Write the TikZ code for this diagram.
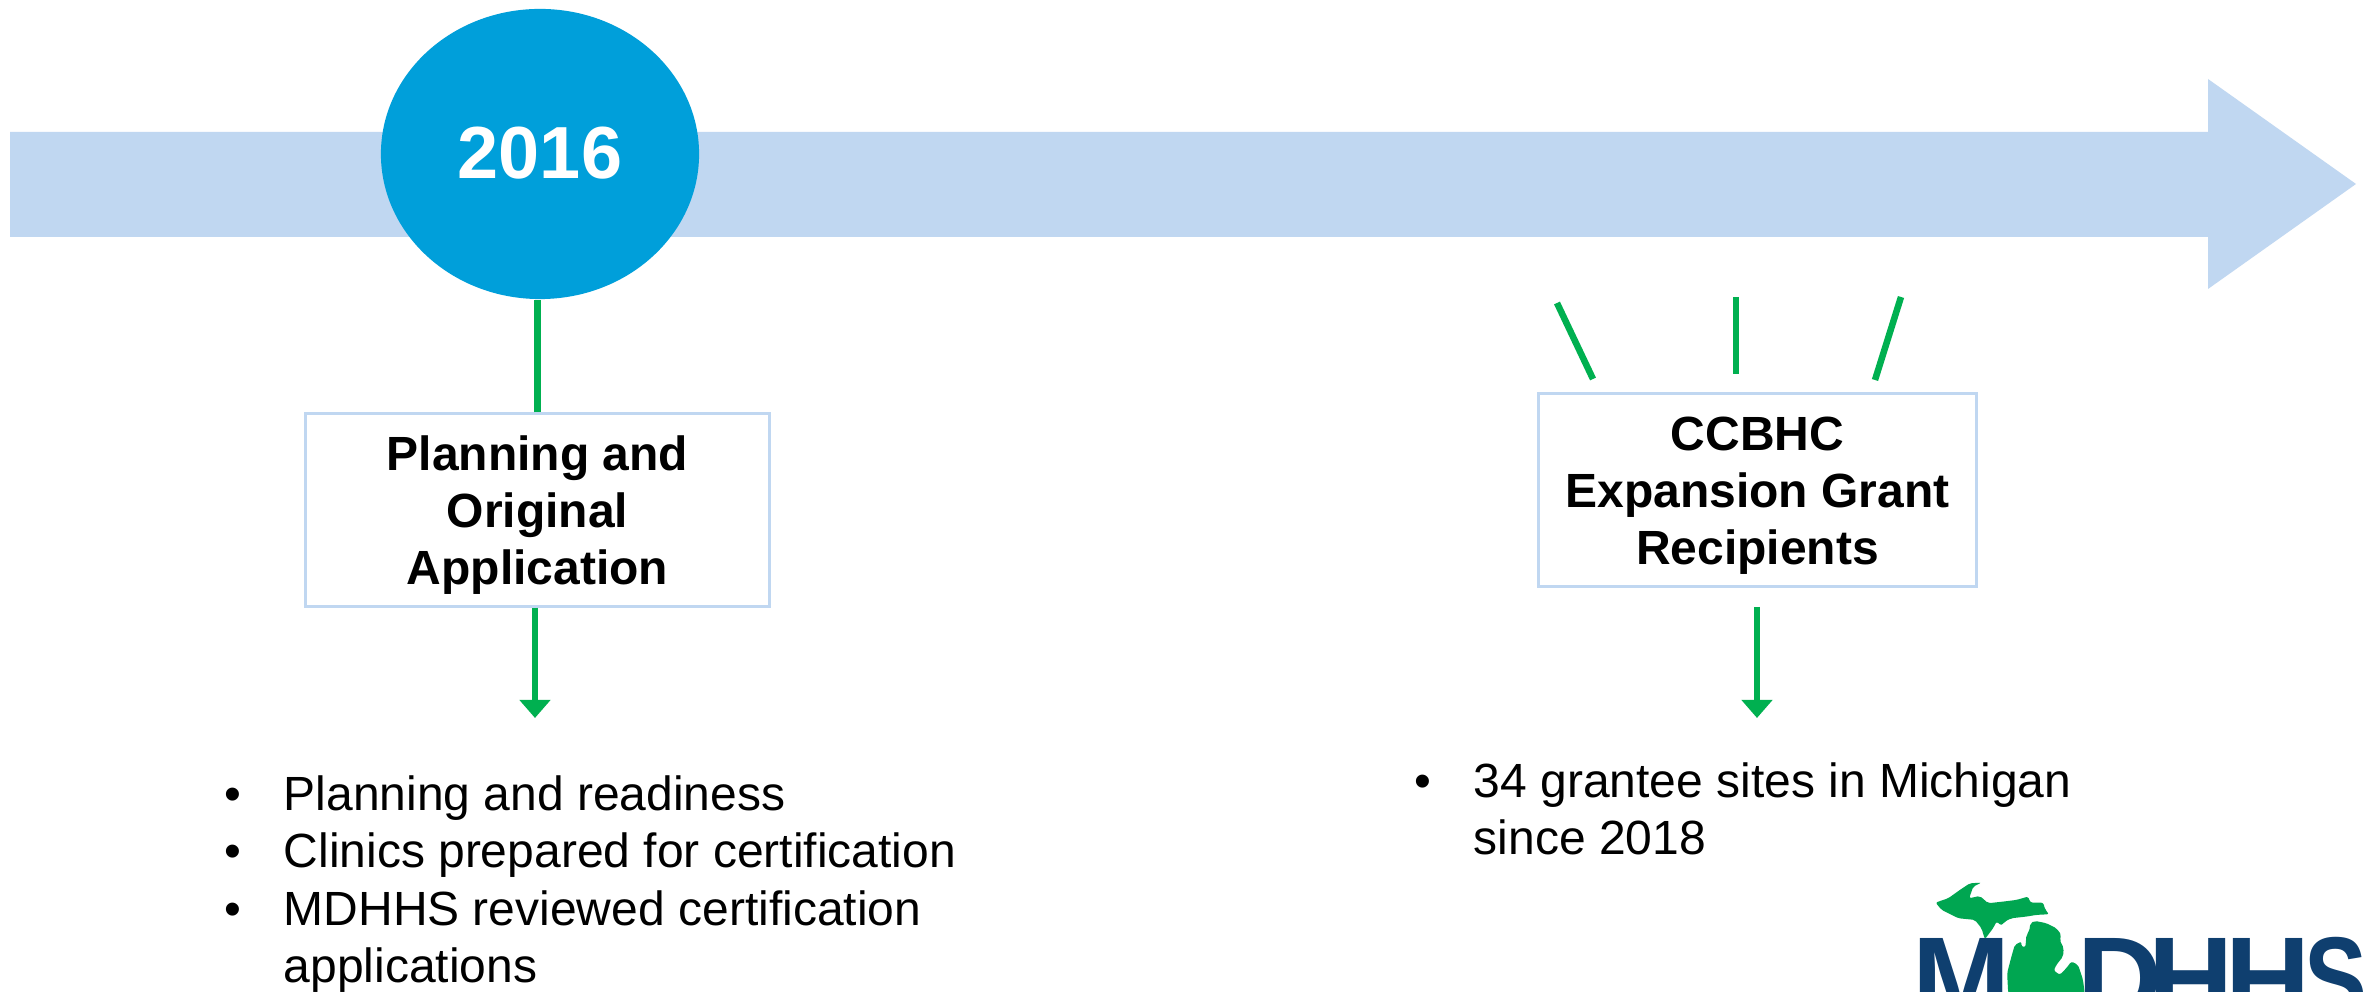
\documentclass[tikz,border=0pt]{standalone}
\usepackage{fontspec}
\setmainfont{Liberation Sans}
\usetikzlibrary{arrows.meta,shapes.geometric}
\definecolor{bandblue}{HTML}{C0D7F1}
\definecolor{yearblue}{HTML}{009FDA}
\definecolor{linkgreen}{HTML}{00B050}
\definecolor{mapgreen}{HTML}{00A651}
\definecolor{logonavy}{HTML}{0F3F6F}
\newcommand{\titlestrut}{\rule{0pt}{13pt}}
\tikzset{
  link/.style={linkgreen,line width=0.065cm},
  linkarrow/.style={link,-{Triangle[length=0.18cm,width=0.30cm]}},
  titlebox/.style={draw=bandblue,line width=0.03cm,fill=white,align=center,inner sep=0pt,
    font=\fontsize{13.65}{16.2}\selectfont\bfseries},
  itemtext/.style={anchor=base west,inner sep=0pt,align=left,font=\fontsize{13.65}{16.2}\selectfont},
  logoletter/.style={anchor=base west,inner sep=0pt,text=logonavy,font=\fontsize{33.5}{33.5}\selectfont\bfseries},
  mapshape/.style={fill=mapgreen,rounded corners=0.6pt}
}
\begin{document}
\begin{tikzpicture}[x=0.01cm,y=-0.01cm]
    \clip (0,0) rectangle (2371,992);
    \fill[white] (0,0) rectangle (2371,992);
    \fill[bandblue] (10,132) -- (2208,132) -- (2208,79) -- (2356,184) -- (2208,289)
      -- (2208,237) -- (10,237) -- cycle;

    \node[ellipse,fill=yearblue,inner sep=0pt,minimum width=3.18cm,minimum height=2.90cm,
      text=white,font=\fontsize{21}{24}\selectfont\bfseries] (year) at (540,154)
      {\raisebox{0.02cm}{2016}};

    \node[titlebox,minimum width=4.63cm,minimum height=1.92cm] (planbox) at (537.5,510)
      {\titlestrut Planning and\\Original\\Application};
    \node[titlebox,minimum width=4.37cm,minimum height=1.92cm] (ccbhcbox) at (1757.5,490)
      {\titlestrut CCBHC\\Expansion Grant\\Recipients};

    \coordinate (planfoot) at (535,718);
    \coordinate (ccbhcfoot) at (1757,718);
    \coordinate (ccbhcstart) at (1757,607);
    \coordinate (rayAtop) at (1557,303);
    \coordinate (rayAend) at (1593,379);
    \coordinate (rayBtop) at (1736,297);
    \coordinate (rayBend) at (1736,374);
    \coordinate (rayCtop) at (1901,297);
    \coordinate (rayCend) at (1875,380);

    \draw[link] (planbox.north) -- (planbox.north |- year.south);
    \draw[linkarrow] (planfoot |- planbox.south) -- (planfoot);
    \draw[linkarrow] (ccbhcstart) -- (ccbhcfoot);
    \draw[link] (rayAtop) -- (rayAend);
    \draw[link] (rayBtop) -- (rayBend);
    \draw[link] (rayCtop) -- (rayCend);

    \foreach \bx/\by in {231/811,231/868,231/926,1421/798}
      \node[itemtext] at (\bx-7,\by) {•};
    \node[itemtext] (itemA) at (283,811) {Planning and readiness};
    \node[itemtext] (itemB) at (283,868) {Clinics prepared for certification};
    \node[itemtext] (itemC) at (283,926) {MDHHS reviewed certification};
    \node[itemtext] (itemCb) at (283,983) {applications};
    \node[itemtext] (itemD) at (1473,798) {34 grantee sites in Michigan};
    \node[itemtext] (itemDb) at (1473,855) {since 2018};

    \begin{scope}[shift={(1880,860)},x=0.00333cm,y=-0.00333cm]
      \node[logoletter] (logoM) at (95,480) {M};
      \node[logoletter] (logoD) at (590,480) {D};
      \node[logoletter] (logoH) at (805,480) {H};
      \node[logoletter] (logoHb) at (1035,480) {H};
      \node[logoletter,xscale=0.8] (logoS) at (1275,480) {S};
      \fill[mapshape] (305,68) -- (280,80) -- (268,115) -- (300,108) -- (325,130) -- (370,125)
        -- (410,120) -- (445,110) -- (452,128) -- (490,128) -- (497,150) -- (508,163)
        -- (470,165) -- (440,170) -- (395,175) -- (375,185) -- (365,197) -- (350,185)
        -- (340,205) -- (315,238) -- (305,205) -- (285,180) -- (235,175) -- (185,150)
        -- (167,128) -- (205,115) -- (240,90) -- (270,70) -- cycle;
      \fill[mapshape] (465,183) -- (500,190) -- (530,205) -- (545,225) -- (540,240)
        -- (552,265) -- (550,290) -- (530,315) -- (522,332) -- (540,345) -- (560,325)
        -- (575,305) -- (595,315) -- (610,360) -- (615,400) -- (615,440) -- (395,440)
        -- (385,396) -- (382,340) -- (395,290) -- (405,255) -- (425,245) -- (425,260)
        -- (437,262) -- (440,225) -- (448,215) -- (452,190) -- cycle;
    \end{scope}
\end{tikzpicture}
\end{document}
